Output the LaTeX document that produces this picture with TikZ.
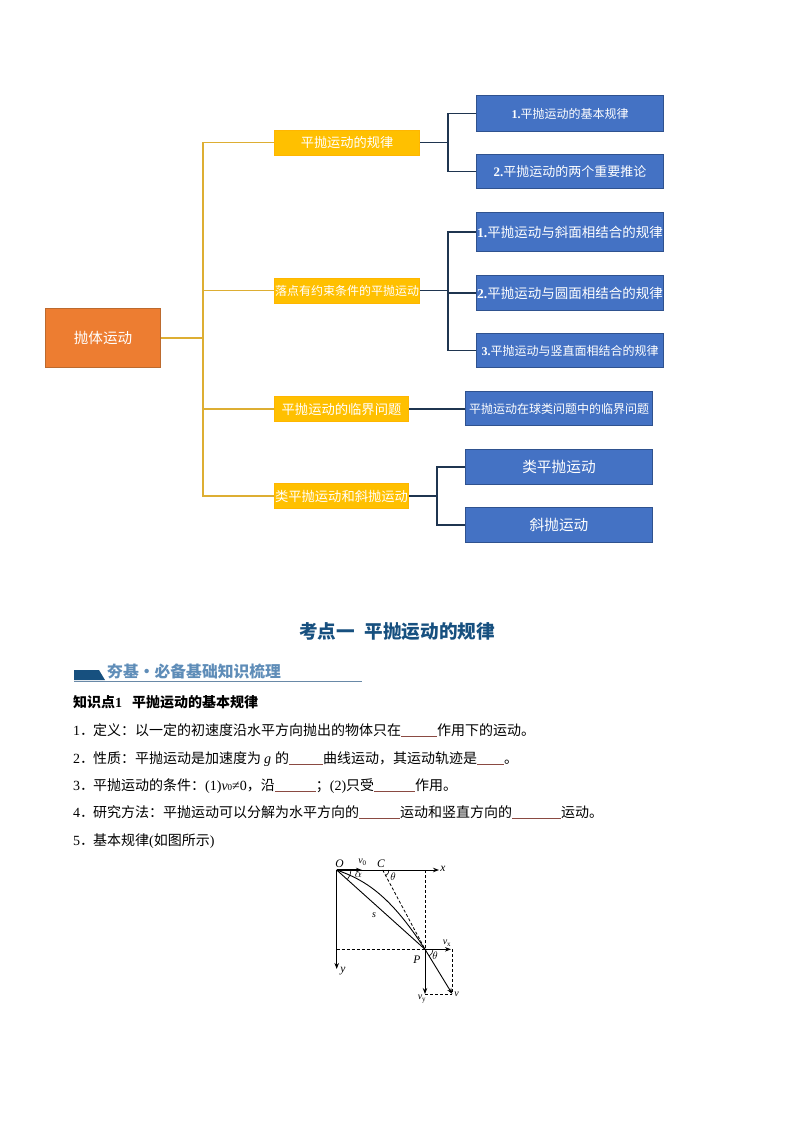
\documentclass[tikz,border=0pt]{standalone}
\usepackage{fontspec}
\usepackage{xcolor}
\setmainfont{Liberation Serif}
\newfontfamily\cjk{Noto Sans CJK SC}
\usetikzlibrary{arrows.meta,calc}

\definecolor{rootfill}{HTML}{ED7D31}
\definecolor{rootedge}{HTML}{BC6A2E}
\definecolor{topicfill}{HTML}{FFC000}
\definecolor{leaffill}{HTML}{4472C4}
\definecolor{leafedge}{HTML}{2F528F}
\definecolor{goldline}{HTML}{DDAE33}
\definecolor{navyline}{HTML}{1F3550}
\definecolor{headblue}{HTML}{17507F}
\definecolor{bannerblue}{HTML}{5F8DB8}
\definecolor{blankred}{HTML}{8A4A42}

\newcommand{\fs}[1]{\fontsize{#1}{#1}\selectfont}
\newcommand{\blank}[1]{\textcolor{blankred}{\rule[-2pt]{#1pt}{0.7pt}}}
\newcommand{\num}[1]{{\rmfamily\normalfont #1}}

\tikzset{
  rootbox/.style={draw=rootedge, fill=rootfill, text=white, line width=0.8pt, inner sep=0pt, font=\cjk\fs{14.6}},
  topicbox/.style={draw=topicfill!85!orange, fill=topicfill, text=white, line width=0.6pt, inner sep=0pt},
  leafbox/.style={draw=leafedge, fill=leaffill, text=white, line width=0.8pt, inner sep=0pt},
  goldwire/.style={draw=goldline, line width=1.3pt},
  navywire/.style={draw=navyline, line width=1.3pt},
  para/.style={anchor=base west, inner sep=0pt, font=\cjk\fs{14}},
  figlabel/.style={inner sep=0pt, font=\fs{11.5}\itshape},
  figsmall/.style={inner sep=0pt, font=\fs{10}\itshape},
  figline/.style={line width=0.9pt},
  figdash/.style={line width=0.8pt, dashed, dash pattern=on 3pt off 2pt},
  figarrow/.style={line width=0.9pt, -{Stealth[length=6pt,width=4.5pt]}}
}

\begin{document}
\begin{tikzpicture}[x=1pt, y=-1pt]
  \useasboundingbox (0,0) rectangle (794,1123);

  % Root and the four topics
  \node[rootbox, minimum width=115.2pt, minimum height=59.2pt] (root) at (103,338) {抛体运动};
  \foreach \key/\cx/\cy/\boxw/\size/\txt in {
    rule/347/142.5/145.4/13.2/平抛运动的规律,
    limit/347/290.5/145.4/12/落点有约束条件的平抛运动,
    crit/341.5/409/134.4/13.3/平抛运动的临界问题,
    oblique/341.5/496/134.4/13.3/类平抛运动和斜抛运动} {
    \node[topicbox, minimum width=\boxw pt, minimum height=24.9pt, font=\cjk\fs{\size}] (\key) at (\cx,\cy) {\txt};
  }

  % Leaves
  \foreach \key/\cx/\cy/\boxh/\size/\txt in {
    ruleA/570/113.5/36.2/12/{\num{\bfseries 1.}平抛运动的基本规律},
    ruleB/570/171.5/34.2/13/{\num{\bfseries 2.}平抛运动的两个重要推论},
    limitA/570/232/39.2/13.5/{\num{\bfseries 1.}平抛运动与斜面相结合的规律},
    limitB/570/293/35.2/13.5/{\num{\bfseries 2.}平抛运动与圆面相结合的规律},
    limitC/570/350.5/34.2/12/{\num{\bfseries 3.}平抛运动与竖直面相结合的规律},
    critA/559/408.5/34.2/12/平抛运动在球类问题中的临界问题,
    obliqueA/559/467/35.2/14.7/类平抛运动,
    obliqueB/559/525/35.2/14.7/斜抛运动} {
    \node[leafbox, minimum width=187.2pt, minimum height=\boxh pt, font=\cjk\fs{\size}] (\key) at (\cx,\cy) {\txt};
  }

  % Connectors
  \coordinate (trunk) at (203,338);
  \coordinate (forkA) at (448,142.5);
  \coordinate (forkB) at (448,290.5);
  \coordinate (forkC) at (437,496);
  \draw[goldwire] (root.east) -- (trunk);
  \foreach \key in {rule,limit,crit,oblique} {
    \draw[goldwire] (trunk) |- (\key.west);
  }
  \draw[navywire] (rule.east) -- (forkA);
  \draw[navywire] (limit.east) -- (forkB);
  \draw[navywire] (oblique.east) -- (forkC);
  \draw[navywire] (crit.east) -- (crit.east -| critA.west);
  \foreach \key in {ruleA,ruleB} {
    \draw[navywire] (forkA) |- (\key.west);
  }
  \foreach \key in {limitA,limitB,limitC} {
    \draw[navywire] (forkB) |- (\key.west);
  }
  \foreach \key in {obliqueA,obliqueB} {
    \draw[navywire] (forkC) |- (\key.west);
  }

  % Section heading and banner
  \node[inner sep=0pt, text=headblue, font=\cjk\bfseries\fs{18.6}] (heading) at (397,632) {考点一\hspace{10pt}平抛运动的规律};
  \fill[headblue] (74,670) -- (99,670) -- (105,680) -- (74,680) -- cycle;
  \draw[draw=bannerblue!70!gray, line width=0.8pt] (74,681) -- (362,681);
  \node[anchor=west, inner sep=0pt, text=bannerblue, font=\cjk\bfseries\fs{15.8}] (banner) at (107,671.5) {夯基·必备基础知识梳理};

  % Text lines
  \node[para, font=\cjk\bfseries\fs{14}] (point) at (73,707) {知识点\num{\bfseries 1}\hspace{10pt}平抛运动的基本规律};
  \node[para] (lineA) at (73,735) {\num{1}．\hspace{-1pt}定义：以一定的初速度沿水平方向抛出的物体只在\blank{36}作用下的运动。};
  \node[para] (lineB) at (73,763) {\num{2}．\hspace{-1pt}性质：平抛运动是加速度为\hspace{3pt}\num{\itshape g}\hspace{4pt}的\blank{34}曲线运动，其运动轨迹是\blank{27}。};
  \node[para] (lineC) at (73,790) {\num{3}．\hspace{-1pt}平抛运动的条件：\num{(1)\itshape v}{\fs{9}\num{0}}\num{≠0}，沿\blank{41}；\num{(2)}只受\blank{41}作用。};
  \node[para] (lineD) at (73,817) {\num{4}．\hspace{-1pt}研究方法：平抛运动可以分解为水平方向的\blank{41}运动和竖直方向的\blank{49}运动。};
  \node[para] (lineE) at (73,845) {\num{5}．\hspace{-1pt}基本规律\num{(}如图所示\num{)}};

  % Projectile figure
  \coordinate (O) at (336.7,870);
  \coordinate (C) at (382.7,870);
  \coordinate (P) at (425,949.3);
  \coordinate (Q) at (452.3,994);
  \draw[figarrow] (O) -- (439,870);
  \draw[figarrow] (O) -- (336.7,969);
  \draw[figarrow, line width=1.1pt] (O) -- (362,870);
  \draw[figline] (O) -- (P);
  \draw[figline] (O) .. controls (365,880) and (390,895) .. (P);
  \draw[figdash] (C) -- (P);
  \draw[figdash] (425,870) -- (P);
  \draw[figdash] (336.7,949.3) -- (P);
  \draw[figdash] (452.3,949.3) -- (Q);
  \draw[figdash] (425,994) -- (Q);
  \draw[figarrow] (P) -- (451,949.3);
  \draw[figarrow] (P) -- (425,994);
  \draw[figarrow] (P) -- (Q);
  \draw[line width=0.6pt] (351,870) arc[start angle=0, end angle=-42, radius=14pt];
  \draw[line width=0.6pt] (389,870) arc[start angle=0, end angle=-62, radius=6.5pt];
  \draw[line width=0.6pt] (433,949.3) arc[start angle=0, end angle=-59, radius=8pt];

  \node[figlabel] (labO) at (339.5,863.5) {O};
  \node[figsmall] (labVo) at (362.5,862) {v\textsubscript{\normalfont 0}};
  \node[figlabel] (labC) at (381,864) {C};
  \node[figlabel] (labx) at (443,869) {x};
  \node[figsmall, font=\fs{11}] (labA) at (358.5,875) {$\alpha$};
  \node[figsmall, font=\fs{11}] (labT) at (393,877) {$\theta$};
  \node[figsmall] (labs) at (374,915) {s};
  \node[figlabel] (labP) at (417,959.5) {P};
  \node[figsmall, font=\fs{11}] (labTb) at (435,956) {$\theta$};
  \node[figsmall] (labVx) at (447,943) {v\textsubscript{\normalfont x}};
  \node[figsmall] (labVy) at (422,999) {v\textsubscript{\normalfont y}};
  \node[figsmall] (labV) at (456.5,994) {v};
  \node[figlabel] (laby) at (343,971) {y};
\end{tikzpicture}
\end{document}
